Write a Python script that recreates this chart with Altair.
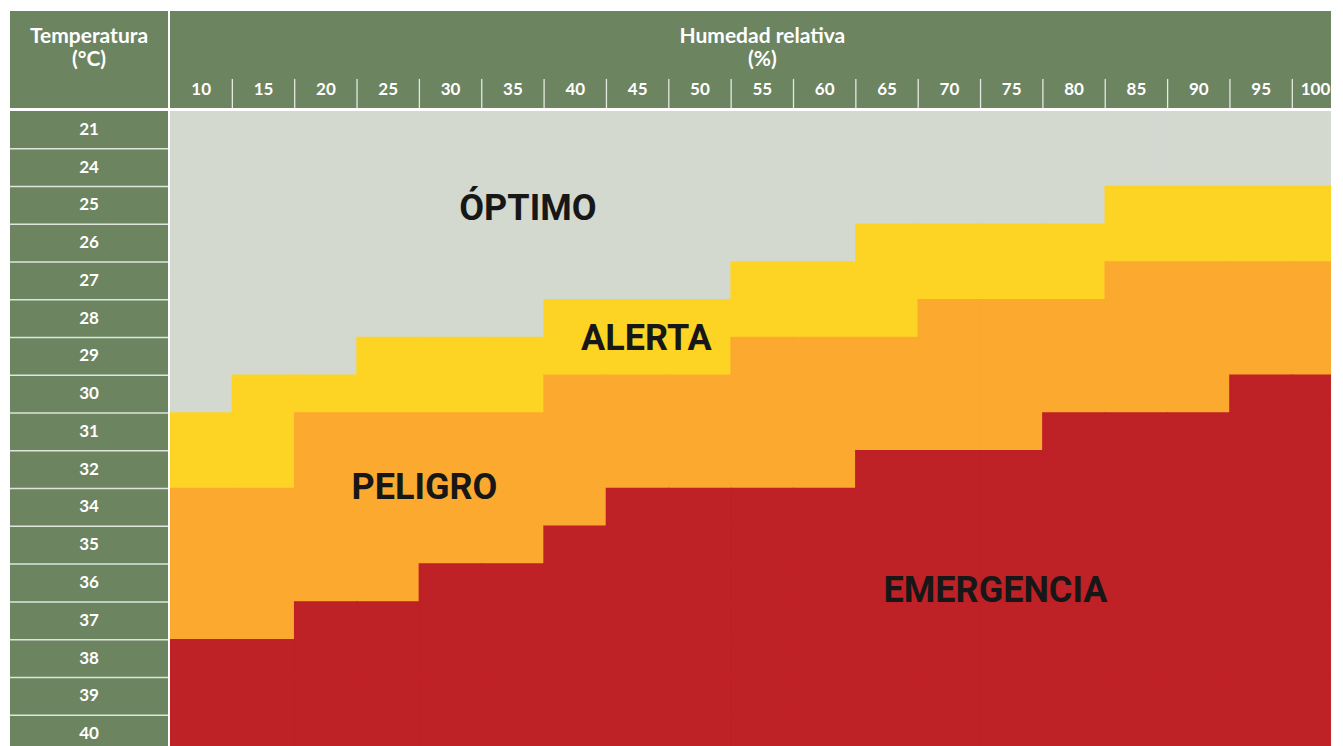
import altair as alt
import pandas as pd

# ---------------- data ----------------
temperatures = [21, 24, 25, 26, 27, 28, 29, 30, 31, 32, 34, 35, 36, 37, 38, 39, 40]
humidities = [10, 15, 20, 25, 30, 35, 40, 45, 50, 55, 60, 65, 70, 75, 80, 85, 90, 95, 100]

# one letter per humidity column: O = óptimo, A = alerta, P = peligro, E = emergencia
risk_rows = [
    "OOOOOOOOOOOOOOOOOOO",  # 21
    "OOOOOOOOOOOOOOOOOOO",  # 24
    "OOOOOOOOOOOOOOOAAAA",  # 25
    "OOOOOOOOOOOAAAAAAAA",  # 26
    "OOOOOOOOOAAAAAAPPPP",  # 27
    "OOOOOOAAAAAAPPPPPPP",  # 28
    "OOOAAAAAAPPPPPPPPPP",  # 29
    "OAAAAAPPPPPPPPPPPEE",  # 30
    "AAPPPPPPPPPPPPEEEEE",  # 31
    "AAPPPPPPPPPEEEEEEEE",  # 32
    "PPPPPPPEEEEEEEEEEEE",  # 34
    "PPPPPPEEEEEEEEEEEEE",  # 35
    "PPPPEEEEEEEEEEEEEEE",  # 36
    "PPEEEEEEEEEEEEEEEEE",  # 37
    "EEEEEEEEEEEEEEEEEEE",  # 38
    "EEEEEEEEEEEEEEEEEEE",  # 39
    "EEEEEEEEEEEEEEEEEEE",  # 40
]
level_codes = ["O", "A", "P", "E"]
level_names = ["ÓPTIMO", "ALERTA", "PELIGRO", "EMERGENCIA"]
level_colors = ["#d3d9cf", "#fed424", "#fba92f", "#be2126"]

# zone labels (anchor in humidity units / row index)
label_text = ["ÓPTIMO", "ALERTA", "PELIGRO", "EMERGENCIA"]
label_hum = [36.2, 45.7, 27.9, 73.7]
label_row = [2.1, 5.54, 9.48, 12.21]

# ---------------- styles ----------------
GREEN = "#6d8461"
HEAD_FONT = "Lato, Roboto, sans-serif"
ZONE_FONT = "Roboto, DejaVu Sans, sans-serif"
LEFT_W, MAIN_W = 158, 1161
HEAD_H, BODY_H = 97, 636
PX_PER_UNIT = 62.35 / 5

x_scale = alt.Scale(domain=[7.5, 7.5 + MAIN_W / PX_PER_UNIT], nice=False, zero=False)
y_scale = alt.Scale(domain=[-0.5, -0.5 + BODY_H / 37.76], nice=False, zero=False, reverse=True)

code_to_name = dict(zip(level_codes, level_names))
cells = []
for i, (t, row) in enumerate(zip(temperatures, risk_rows)):
    assert len(row) == len(humidities)
    for h, c in zip(humidities, row):
        cells.append({"temp": t, "row": i, "hum": h, "level": code_to_name[c]})
cells_df = pd.DataFrame(cells)

temps_df = pd.DataFrame({"temp": temperatures, "row": list(range(len(temperatures)))})
hums_df = pd.DataFrame({"hum": humidities})
labels_df = pd.DataFrame({"text": label_text, "hum": label_hum, "row": label_row})

color_scale = alt.Scale(domain=level_names, range=level_colors)

# ---------------- heat map ----------------
heat_rects = (
    alt.Chart(cells_df)
    .transform_calculate(lo="datum.hum - 2.5", hi="datum.hum + 2.5",
                         y0="datum.row - 0.5", y1="datum.row + 0.5")
    .mark_rect(clip=True, strokeWidth=1.5, opacity=1, fillOpacity=1, strokeOpacity=1)
    .encode(
        x=alt.X("lo:Q", scale=x_scale, axis=None),
        x2="hi:Q",
        y=alt.Y("y0:Q", scale=y_scale, axis=None),
        y2="y1:Q",
        color=alt.Color("level:N", scale=color_scale, legend=None),
        stroke=alt.Stroke("level:N", scale=color_scale, legend=None),
    )
)
heat_labels = (
    alt.Chart(labels_df)
    .mark_text(font=ZONE_FONT, fontWeight="bold", fontSize=36, color="#171717",
               baseline="middle", align="center")
    .encode(
        x=alt.X("hum:Q", scale=x_scale, axis=None),
        y=alt.Y("row:Q", scale=y_scale, axis=None),
        text="text:N",
    )
)
heat = alt.layer(heat_rects, heat_labels).properties(width=MAIN_W, height=BODY_H)

# ---------------- temperature column ----------------
temp_sep = (
    alt.Chart(temps_df)
    .transform_calculate(b="datum.row + 0.5")
    .mark_rule(color="#dfe5db", strokeWidth=1.5, clip=True)
    .encode(y=alt.Y("b:Q", scale=y_scale, axis=None), x=alt.value(0), x2=alt.value(LEFT_W))
)
temp_text = (
    alt.Chart(temps_df)
    .mark_text(font=HEAD_FONT, fontWeight="bold", fontSize=17, color="white",
               baseline="middle", align="center")
    .encode(y=alt.Y("row:Q", scale=y_scale, axis=None), x=alt.value(LEFT_W / 2),
            text="temp:Q")
)
temp_col = alt.layer(temp_sep, temp_text).properties(
    width=LEFT_W, height=BODY_H, view=alt.ViewBackground(fill=GREEN, stroke=None)
)

# ---------------- headers ----------------
hdr_left = (
    alt.Chart(pd.DataFrame({"t": [0]}))
    .mark_text(font=HEAD_FONT, fontWeight="bold", fontSize=21, color="white",
               align="center", baseline="alphabetic", lineHeight=23)
    .encode(x=alt.value(LEFT_W / 2), y=alt.value(32),
            text=alt.value(["Temperatura", "(°C)"]))
    .properties(width=LEFT_W, height=HEAD_H,
                view=alt.ViewBackground(fill=GREEN, stroke=None))
)

hdr_title = (
    alt.Chart(pd.DataFrame({"t": [0]}))
    .mark_text(font=HEAD_FONT, fontWeight="bold", fontSize=21, color="white",
               align="center", baseline="alphabetic", lineHeight=23)
    .encode(x=alt.X(datum=55, scale=x_scale, axis=None), y=alt.value(32),
            text=alt.value(["Humedad relativa", "(%)"]))
)
hdr_nums = (
    alt.Chart(hums_df)
    .transform_filter("datum.hum < 100")
    .mark_text(font=HEAD_FONT, fontWeight="bold", fontSize=17, color="white",
               align="center", baseline="alphabetic")
    .encode(x=alt.X("hum:Q", scale=x_scale, axis=None), y=alt.value(84), text="hum:Q")
)
hdr_last = (
    alt.Chart(hums_df)
    .transform_filter("datum.hum == 100")
    .mark_text(font=HEAD_FONT, fontWeight="bold", fontSize=17, color="white",
               align="center", baseline="alphabetic", dx=-8)
    .encode(x=alt.X("hum:Q", scale=x_scale, axis=None), y=alt.value(84), text="hum:Q")
)
hdr_ticks = (
    alt.Chart(hums_df)
    .transform_filter("datum.hum < 100")
    .transform_calculate(b="datum.hum + 2.5")
    .mark_rule(color="#e4e9e1", strokeWidth=1.3)
    .encode(x=alt.X("b:Q", scale=x_scale, axis=None), y=alt.value(68), y2=alt.value(HEAD_H))
)
hdr_right = alt.layer(hdr_ticks, hdr_nums, hdr_last, hdr_title).properties(
    width=MAIN_W, height=HEAD_H, view=alt.ViewBackground(fill=GREEN, stroke=None)
)

chart = (
    alt.vconcat(
        alt.hconcat(hdr_left, hdr_right, spacing=2),
        alt.hconcat(temp_col, heat, spacing=2),
        spacing=2,
    )
    .properties(padding={"left": 2, "top": 3, "right": 0, "bottom": 0},
                background="#ffffff")
    .configure_view(stroke=None)
    .configure_concat(spacing=2)
)

chart.save("out.html", embed_options={"renderer": "svg", "actions": False})
